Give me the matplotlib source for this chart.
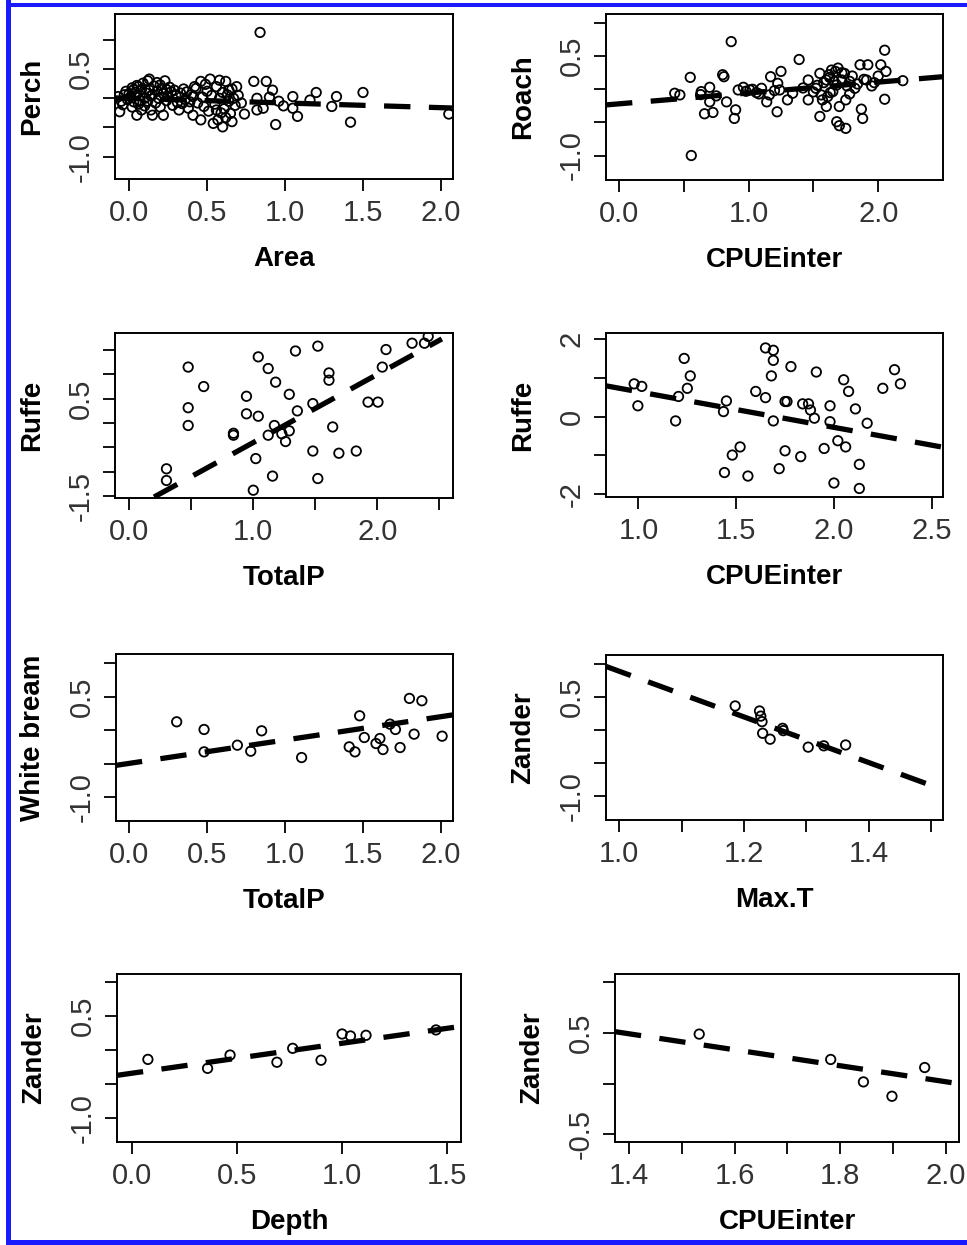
import numpy as np
import matplotlib
matplotlib.use("Agg")
import matplotlib.pyplot as plt
from matplotlib.patches import Rectangle

plt.rcParams['font.family'] = ['Liberation Sans', 'DejaVu Sans']

# ---- data (partial residuals + fitted line) ----
perch_x = [-0.07, -0.06, -0.05, -0.04, -0.03, -0.02, -0.01, 0.0, 0.01, 0.02, 0.02, 0.03, 0.04, 0.05, 0.05,
           0.06, 0.06, 0.07, 0.08, 0.08, 0.09, 0.10, 0.10, 0.11, 0.12, 0.12, 0.13, 0.13, 0.14, 0.15, 0.15,
           0.16, 0.17, 0.18, 0.18, 0.19, 0.20, 0.20, 0.21, 0.22, 0.22, 0.23, 0.24, 0.25, 0.26, 0.27, 0.28,
           0.29, 0.30,
           0.32, 0.33, 0.34, 0.35, 0.36, 0.37, 0.38, 0.40, 0.41, 0.41, 0.42, 0.43, 0.44, 0.46, 0.46, 0.47,
           0.48, 0.50, 0.51, 0.52, 0.53, 0.54, 0.55, 0.56, 0.57, 0.58, 0.58, 0.59, 0.60, 0.60, 0.61, 0.62,
           0.62, 0.63, 0.64, 0.65, 0.66, 0.67, 0.68, 0.69, 0.70, 0.72, 0.74,
           0.80, 0.82, 0.82, 0.84, 0.86, 0.88, 0.90, 0.92, 0.94, 0.96, 0.99, 1.05, 1.05, 1.08, 1.16, 1.20,
           1.30, 1.33, 1.42, 1.50, 2.05,
           0.03, 0.07, 0.14, 0.24, 0.31, 0.39, 0.49, 0.56, 0.64, 0.66]
perch_y = [0.03, -0.23, -0.05, -0.11, 0.06, 0.12, -0.02, 0.08, 0.03, -0.15, 0.18, -0.06, 0.10, -0.29, 0.22,
           0.20, -0.10, 0.05, 0.15, -0.20, 0.26, 0.0, -0.13, 0.09, 0.30, -0.05, 0.33, 0.14, -0.20, -0.29, 0.06,
           0.21, -0.08, 0.27, 0.12, 0.0, 0.23, -0.15, 0.17, -0.29, 0.08, 0.30, -0.04, 0.03, 0.19, 0.11, -0.12,
           0.14, 0.05,
           -0.20, 0.09, -0.09, 0.16, -0.02, 0.11, -0.17, 0.06, 0.03, -0.29, 0.20, 0.17, -0.08, 0.29, -0.37, 0.02,
           -0.14, 0.12, -0.22, 0.33, 0.05, -0.43, -0.10, 0.20, -0.37, 0.31, 0.0, -0.25, -0.49, 0.10, -0.18, 0.29,
           -0.33, 0.06, -0.05, -0.26, 0.16, 0.0, -0.12, 0.20, 0.05, -0.08, -0.27,
           0.29, 0.0, -0.20, 1.13, -0.17, 0.29, 0.02, 0.14, -0.45, -0.05, -0.13, 0.03, -0.17, -0.31, -0.03, 0.10,
           -0.14, 0.03, -0.41, 0.10, -0.27,
           0.15, -0.04, 0.04, 0.15, -0.07, -0.06, 0.24, -0.20, 0.14, -0.40]
perch_fit_x = [-0.09, 2.07]
perch_fit_y = [0.007, -0.166]

roach_x = [0.866, 0.558, 0.55, 0.80, 0.81, 0.70, 0.635, 0.66, 0.725, 0.70, 0.83, 0.90, 0.89, 0.92, 0.96,
           1.01, 1.06, 1.10, 1.14, 1.16, 1.17, 1.25, 1.225, 1.22, 1.24, 1.30, 1.39, 1.46, 1.46, 1.55, 1.56,
           1.55, 1.60, 1.61, 1.60, 1.64, 1.68, 1.69, 1.68, 1.70, 1.75, 1.74, 1.75, 1.78, 1.82, 1.86, 1.87,
           1.88, 1.92, 1.91, 1.97, 2.02, 2.05, 2.06, 2.05, 2.19, 1.52, 1.65, 1.72, 1.80, 1.625, 1.57, 1.34,
           0.47, 0.43,
           0.63, 0.75, 0.98, 1.03, 1.08, 1.20, 1.42, 1.50, 1.58, 1.62, 1.66, 1.70, 1.72, 1.76, 1.84, 1.89,
           1.95, 2.00, 1.67, 1.53, 1.63, 1.78]
roach_y = [0.72, -1.0, 0.18, 0.22, 0.19, 0.03, -0.035, -0.37, -0.35, -0.19, -0.19, -0.31, -0.44, -0.01, 0.03,
           -0.01, -0.05, 0.015, -0.19, -0.085, 0.19, 0.27, 0.09, -0.34, -0.01, -0.16, 0.45, 0.14, -0.16, -0.41, -0.085,
           0.24, 0.14, -0.11, -0.26, 0.29, 0.065, 0.32, -0.49, -0.55, -0.59, 0.24, -0.16, 0.12, 0.015, 0.37, -0.30,
           -0.44, 0.37, 0.14, 0.10, 0.37, 0.59, 0.27, -0.15, 0.13, 0.015, -0.035, 0.14, 0.20, 0.18, -0.16, -0.06,
           -0.085, -0.06,
           -0.08, -0.10, -0.03, 0.0, -0.07, -0.02, 0.02, -0.04, 0.10, 0.22, 0.12, -0.26, 0.25, 0.05, 0.08, 0.15,
           0.05, 0.20, 0.27, 0.06, -0.05, -0.07]
roach_fit_x = [-0.10, 2.50]
roach_fit_y = [-0.236, 0.19]

ruffe_p_x = [0.475, 0.475, 0.475, 0.60, 0.30, 0.30, 0.84, 0.84, 0.945, 0.945, 1.04, 1.04, 1.12, 1.18,
             1.12, 1.17, 1.23, 1.26, 1.29, 1.29, 1.02, 1.00, 1.155, 1.34, 1.355, 1.48, 1.48, 1.52, 1.52,
             1.61, 1.61, 1.64, 1.69, 1.83, 1.925, 2.005, 2.04, 2.07, 2.28, 2.38, 2.41]
ruffe_p_y = [1.15, 0.315, -0.05, 0.75, -0.94, -1.18, -0.21, -0.25, 0.55, 0.19, 1.36, 0.14, 1.12, 0.84,
             -0.25, -0.05, -0.22, -0.38, -0.16, 0.59, -0.73, -1.38, -1.09, 1.48, 0.25, 0.40, -0.575, 1.58, -1.14,
             1.03, 0.88, -0.08, -0.62, -0.575, 0.43, 0.43, 1.15, 1.51, 1.64, 1.64, 1.78]
ruffe_p_fit_x = [0.20, 2.52]
ruffe_p_fit_y = [-1.52, 1.728]

ruffe_c_x = [0.978, 1.017, 0.997, 1.19, 1.205, 1.234, 1.25, 1.265, 1.45, 1.435, 1.44, 1.48, 1.52, 1.56,
             1.60, 1.65, 1.65, 1.69, 1.69, 1.68, 1.69, 1.72, 1.75, 1.75, 1.76, 1.78, 1.83, 1.84, 1.87, 1.88,
             1.91, 1.90, 1.95, 1.98, 1.98, 2.00, 2.02, 2.05, 2.06, 2.075, 2.11, 2.13, 2.13, 2.17, 2.25, 2.31,
             2.34]
ruffe_c_y = [0.845, 0.78, 0.28, -0.11, 0.52, 1.50, 0.73, 1.05, 0.405, 0.13, -1.44, -0.99, -0.78, -1.53,
             0.65, 0.49, 1.77, 1.71, 1.45, 1.05, -0.11, -1.34, -0.88, 0.39, 0.39, 1.29, -1.03, 0.33, 0.33, 0.17,
             1.15, -0.04, -0.82, 0.28, -0.13, -1.71, -0.62, 0.95, -0.78, 0.65, 0.20, -1.23, -1.85, -0.17, 0.73, 1.21,
             0.845]
ruffe_c_fit_x = [0.834, 2.558]
ruffe_c_fit_y = [0.794, -0.788]

wbream_x = [0.304, 0.48, 0.48, 0.694, 0.78, 0.85, 1.107, 1.413, 1.45, 1.48, 1.51, 1.585, 1.61, 1.63,
            1.675, 1.71, 1.74, 1.80, 1.83, 1.88, 2.01]
wbream_y = [0.125, 0.01, -0.325, -0.225, -0.315, -0.01, -0.41, -0.25, -0.325, 0.215, -0.11, -0.20, -0.125,
            -0.29, 0.09, 0.01, -0.26, 0.475, -0.06, 0.44, -0.09]
wbream_fit_x = [-0.086, 2.08]
wbream_fit_y = [-0.527, 0.229]

zander_t_x = [1.186, 1.225, 1.227, 1.229, 1.23, 1.242, 1.262, 1.263, 1.303, 1.328, 1.363]
zander_t_y = [0.364, 0.288, 0.21, 0.126, -0.05, -0.14, 0.025, -0.01, -0.26, -0.24, -0.227]
zander_t_fit_x = [0.979, 1.519]
zander_t_fit_y = [0.963, -0.905]

zander_d_x = [0.076, 0.36, 0.467, 0.69, 0.765, 0.90, 1.0, 1.04, 1.114, 1.447]
zander_d_y = [-0.138, -0.27, -0.074, -0.18, 0.025, -0.15, 0.236, 0.207, 0.217, 0.296]
zander_d_fit_x = [-0.071, 1.566]
zander_d_fit_y = [-0.373, 0.349]

zander_c_x = [1.533, 1.782, 1.844, 1.898, 1.96]
zander_c_y = [0.485, 0.236, 0.016, -0.125, 0.157]
zander_c_fit_x = [1.3735, 2.025]
zander_c_fit_y = [0.509, -0.002]

# ---- panels: box in pixels (left, top, right, bottom), limits, ticks ----
W, H = 967, 1245
panels = [
    dict(box=(115, 14, 453, 179), x=perch_x, y=perch_y, fx=perch_fit_x, fy=perch_fit_y,
         xlim=(-0.09, 2.077), ylim=(-1.384, 1.446), xlabel='Area', ylabel='Perch',
         xt=[0, 0.5, 1, 1.5, 2], xl=['0.0', '0.5', '1.0', '1.5', '2.0'],
         yt=[-1, -0.5, 0, 0.5, 1], yl=['-1.0', '', '', '0.5', '']),
    dict(box=(606, 14, 943, 180), x=roach_x, y=roach_y, fx=roach_fit_x, fy=roach_fit_y,
         xlim=(-0.10, 2.50), ylim=(-1.37, 1.137), xlabel='CPUEinter', ylabel='Roach',
         xt=[0, 0.5, 1, 1.5, 2], xl=['0.0', '', '1.0', '', '2.0'],
         yt=[-1, -0.5, 0, 0.5, 1], yl=['-1.0', '', '', '0.5', '']),
    dict(box=(115, 333, 453, 498), x=ruffe_p_x, y=ruffe_p_y, fx=ruffe_p_fit_x, fy=ruffe_p_fit_y,
         xlim=(-0.115, 2.61), ylim=(-1.54, 1.85), xlabel='TotalP', ylabel='Ruffe',
         xt=[0, 0.5, 1, 1.5, 2, 2.5], xl=['0.0', '', '1.0', '', '2.0', ''],
         yt=[-1.5, -1, -0.5, 0, 0.5, 1, 1.5], yl=['-1.5', '', '', '', '0.5', '', '']),
    dict(box=(606, 333, 943, 497), x=ruffe_c_x, y=ruffe_c_y, fx=ruffe_c_fit_x, fy=ruffe_c_fit_y,
         xlim=(0.834, 2.558), ylim=(-2.07, 2.155), xlabel='CPUEinter', ylabel='Ruffe',
         xt=[1, 1.5, 2, 2.5], xl=['1.0', '1.5', '2.0', '2.5'],
         yt=[-2, -1, 0, 1, 2], yl=['-2', '', '0', '', '2']),
    dict(box=(116, 654, 453, 821), x=wbream_x, y=wbream_y, fx=wbream_fit_x, fy=wbream_fit_y,
         xlim=(-0.086, 2.08), ylim=(-1.36, 1.14), xlabel='TotalP', ylabel='White bream',
         xt=[0, 0.5, 1, 1.5, 2], xl=['0.0', '0.5', '1.0', '1.5', '2.0'],
         yt=[-1, -0.5, 0, 0.5, 1], yl=['-1.0', '', '', '0.5', '']),
    dict(box=(606, 655, 943, 820), x=zander_t_x, y=zander_t_y, fx=zander_t_fit_x, fy=zander_t_fit_y,
         xlim=(0.979, 1.519), ylim=(-1.364, 1.136), xlabel='Max.T', ylabel='Zander',
         xt=[1.0, 1.1, 1.2, 1.3, 1.4, 1.5], xl=['1.0', '', '1.2', '', '1.4', ''],
         yt=[-1, -0.5, 0, 0.5, 1], yl=['-1.0', '', '', '0.5', '']),
    dict(box=(117, 974, 461, 1142), x=zander_d_x, y=zander_d_y, fx=zander_d_fit_x, fy=zander_d_fit_y,
         xlim=(-0.071, 1.566), ylim=(-1.355, 1.12), xlabel='Depth', ylabel='Zander',
         xt=[0, 0.5, 1, 1.5], xl=['0.0', '0.5', '1.0', '1.5'],
         yt=[-1, -0.5, 0, 0.5, 1], yl=['-1.0', '', '', '0.5', '']),
    dict(box=(615, 974, 959, 1142), x=zander_c_x, y=zander_c_y, fx=zander_c_fit_x, fy=zander_c_fit_y,
         xlim=(1.3735, 2.025), ylim=(-0.574, 1.075), xlabel='CPUEinter', ylabel='Zander',
         xt=[1.4, 1.5, 1.6, 1.7, 1.8, 1.9, 2.0], xl=['1.4', '', '1.6', '', '1.8', '', '2.0'],
         yt=[-0.5, 0, 0.5, 1], yl=['-0.5', '', '0.5', '']),
]

fig = plt.figure(figsize=(W / 100, H / 100), dpi=100)

for p in panels:
    l, t, r, b = p['box']
    ax = fig.add_axes([l / W, 1 - b / H, (r - l) / W, (b - t) / H])
    ax.scatter(p['x'], p['y'], s=46, facecolors='none', edgecolors='black', linewidths=1.3, zorder=3)
    ax.plot(p['fx'], p['fy'], color='black', lw=3.8, dashes=(5, 3.5), zorder=2)
    ax.set_xlim(p['xlim'])
    ax.set_ylim(p['ylim'])
    ax.set_xticks(p['xt'])
    ax.set_xticklabels(p['xl'])
    ax.set_yticks(p['yt'])
    ax.set_yticklabels(p['yl'])
    ax.tick_params(length=8.6, width=1.3, labelsize=21, labelcolor='#333333', pad=6)
    ax.tick_params(axis='y', labelrotation=90)
    for lab in ax.get_yticklabels():
        lab.set_va('center')
    for s in ax.spines.values():
        s.set_linewidth(1.4)
    ax.set_xlabel(p['xlabel'], fontsize=20, fontweight='bold', va='center')
    ax.set_ylabel(p['ylabel'], fontsize=20, fontweight='bold', va='center', ha='center')
    ax.xaxis.set_label_coords(0.5, -80 / (b - t))
    ax.yaxis.set_label_coords(-83 / (r - l), 0.5)

# blue frame around the figure
blue = '#1a1aff'
fig.add_artist(Rectangle((6 / W, 0), 5 / W, 1, transform=fig.transFigure, color=blue, lw=0))
fig.add_artist(Rectangle((6 / W, 1 - 7 / H), 1, 4 / H, transform=fig.transFigure, color=blue, lw=0))
fig.add_artist(Rectangle((6 / W, 0), 1, 5 / H, transform=fig.transFigure, color=blue, lw=0))

fig.savefig('out.png', dpi=100)
